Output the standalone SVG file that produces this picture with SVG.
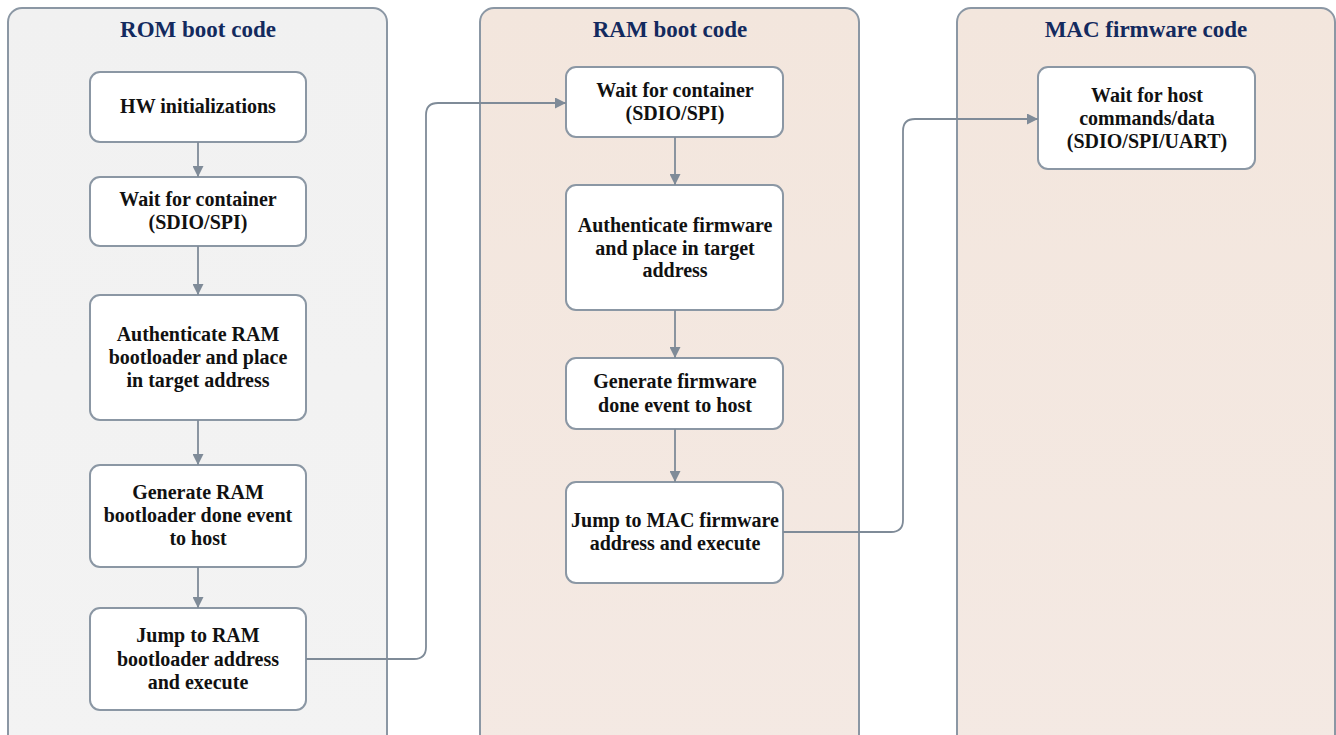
<svg xmlns="http://www.w3.org/2000/svg" width="1336" height="735" viewBox="0 0 1336 735">
<style>
.lane{stroke:#8b97a4;stroke-width:2}
.node rect{fill:#ffffff;stroke:#8b97a4;stroke-width:2}
.title{font-family:"Liberation Serif","DejaVu Serif",serif;font-weight:bold;font-size:23px;fill:#132a5e;text-anchor:middle}
.t{font-family:"Liberation Serif","DejaVu Serif",serif;font-weight:bold;font-size:20px;fill:#111;text-anchor:middle}
.conn{fill:none;stroke:#7f8b98;stroke-width:1.8}
</style>
<defs>
<linearGradient id="gRom" x1="0" y1="0" x2="0" y2="1"><stop offset="0" stop-color="#f1f1f1"/><stop offset="1" stop-color="#f3f3f3"/></linearGradient>
<linearGradient id="gRam" x1="0" y1="0" x2="0" y2="1"><stop offset="0" stop-color="#f3e6dd"/><stop offset="1" stop-color="#f4e9e3"/></linearGradient>
<marker id="ah" viewBox="0 0 10 10" refX="10" refY="5" markerWidth="11" markerHeight="11" markerUnits="userSpaceOnUse" orient="auto"><path d="M0,0 L10,5 L0,10 z" fill="#7f8b98"/></marker>
</defs>
<g id="lane-rom"><rect class="lane" x="8" y="8" width="379" height="750" rx="14" fill="url(#gRom)"/><text class="title" x="198" y="37">ROM boot code</text></g>
<g id="lane-ram"><rect class="lane" x="480" y="8" width="379" height="750" rx="14" fill="url(#gRam)"/><text class="title" x="670" y="37">RAM boot code</text></g>
<g id="lane-mac"><rect class="lane" x="957" y="8" width="378" height="750" rx="14" fill="url(#gRam)"/><text class="title" x="1146" y="37">MAC firmware code</text></g>

<g id="n-hw" class="node"><rect x="90" y="72" width="216" height="70" rx="10"/><text class="t" x="198" y="113">HW initializations</text></g>
<g id="n-wait1" class="node"><rect x="90" y="177" width="216" height="69" rx="10"/><text class="t" x="198" y="206">Wait for container</text><text class="t" x="198" y="229">(SDIO/SPI)</text></g>
<g id="n-auth1" class="node"><rect x="90" y="295" width="216" height="125" rx="10"/><text class="t" x="198" y="341">Authenticate RAM</text><text class="t" x="198" y="364">bootloader and place</text><text class="t" x="198" y="387">in target address</text></g>
<g id="n-gen1" class="node"><rect x="90" y="465" width="216" height="102" rx="10"/><text class="t" x="198" y="499">Generate RAM</text><text class="t" x="198" y="522">bootloader done event</text><text class="t" x="198" y="545">to host</text></g>
<g id="n-jump1" class="node"><rect x="90" y="608" width="216" height="102" rx="10"/><text class="t" x="198" y="642">Jump to RAM</text><text class="t" x="198" y="666">bootloader address</text><text class="t" x="198" y="689">and execute</text></g>

<g id="n-wait2" class="node"><rect x="566" y="67" width="217" height="70" rx="10"/><text class="t" x="675" y="97">Wait for container</text><text class="t" x="675" y="120">(SDIO/SPI)</text></g>
<g id="n-auth2" class="node"><rect x="566" y="185" width="217" height="125" rx="10"/><text class="t" x="675" y="232">Authenticate firmware</text><text class="t" x="675" y="255">and place in target</text><text class="t" x="675" y="277">address</text></g>
<g id="n-gen2" class="node"><rect x="566" y="358" width="217" height="71" rx="10"/><text class="t" x="675" y="388">Generate firmware</text><text class="t" x="675" y="412">done event to host</text></g>
<g id="n-jump2" class="node"><rect x="566" y="482" width="217" height="101" rx="10"/><text class="t" x="675" y="527">Jump to MAC firmware</text><text class="t" x="675" y="550">address and execute</text></g>

<g id="n-wait3" class="node"><rect x="1038" y="67" width="217" height="102" rx="10"/><text class="t" x="1147" y="102">Wait for host</text><text class="t" x="1147" y="125">commands/data</text><text class="t" x="1147" y="148">(SDIO/SPI/UART)</text></g>

<g id="connectors">
<path class="conn" marker-end="url(#ah)" d="M198,142 V177"/>
<path class="conn" marker-end="url(#ah)" d="M198,246 V295"/>
<path class="conn" marker-end="url(#ah)" d="M198,420 V465"/>
<path class="conn" marker-end="url(#ah)" d="M198,567 V608"/>
<path class="conn" marker-end="url(#ah)" d="M306,659 H414 Q426,659 426,647 V115 Q426,103 438,103 H566"/>
<path class="conn" marker-end="url(#ah)" d="M675,137 V185"/>
<path class="conn" marker-end="url(#ah)" d="M675,310 V358"/>
<path class="conn" marker-end="url(#ah)" d="M675,429 V482"/>
<path class="conn" marker-end="url(#ah)" d="M783,532 H891 Q903,532 903,520 V131 Q903,119 915,119 H1038"/>
</g>
</svg>
